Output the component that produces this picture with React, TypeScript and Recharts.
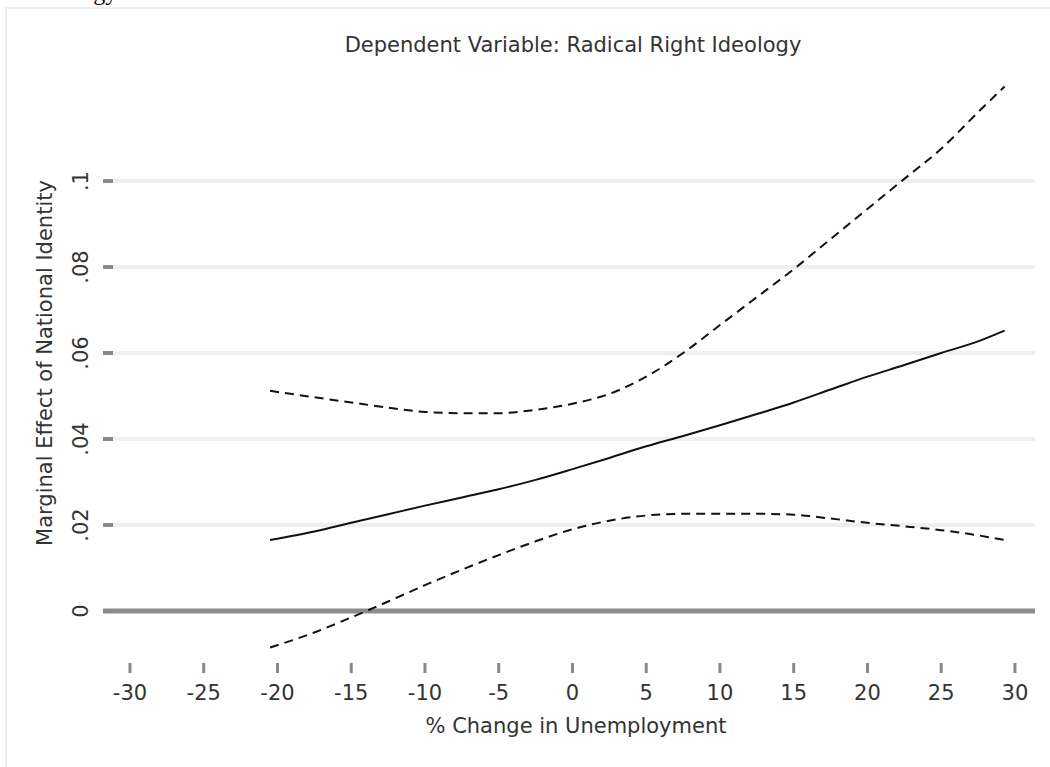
import React from 'react';
import { LineChart, Line, XAxis, YAxis, ReferenceLine } from 'recharts';

// % change in unemployment (x) and marginal effect estimates
const xValues = [-20.5, -17.5, -15, -12.5, -10, -7.5, -5, -2.5, 0, 2.5, 5, 7.5, 10, 12.5, 15, 17.5, 20, 22.5, 25, 27.5, 29.3];
const estimate = [0.0165, 0.0185, 0.0205, 0.0225, 0.0245, 0.0264, 0.0283, 0.0305, 0.033, 0.0356, 0.0383, 0.0407, 0.0432, 0.0458, 0.0485, 0.0515, 0.0545, 0.0572, 0.06, 0.0627, 0.0652];
const upperCI = [0.0512, 0.0497, 0.0485, 0.0473, 0.0463, 0.046, 0.046, 0.0468, 0.0482, 0.0505, 0.0545, 0.06, 0.0665, 0.073, 0.0795, 0.0865, 0.0935, 0.1005, 0.1075, 0.116, 0.122];
const lowerCI = [-0.0085, -0.005, -0.0015, 0.0022, 0.006, 0.0096, 0.013, 0.0162, 0.019, 0.021, 0.0222, 0.0226, 0.0226, 0.0226, 0.0224, 0.0215, 0.0205, 0.0197, 0.0188, 0.0176, 0.0165];

const xTicks = [-30, -25, -20, -15, -10, -5, 0, 5, 10, 15, 20, 25, 30];
const yTicks = [0, 0.02, 0.04, 0.06, 0.08, 0.1];
const yTickLabels = ['0', '.02', '.04', '.06', '.08', '.1'];

const data = xValues.map((x, i) => ({ x, est: estimate[i], upper: upperCI[i], lower: lowerCI[i] }));

const FONT = '"DejaVu Sans", sans-serif';
const TEXT = '#333';

const YTick = (props: any) => {
  const { x, y, index } = props;
  return (
    <g>
      <line x1={x} x2={x + 10} y1={y} y2={y} stroke="#8a8a8a" strokeWidth={4} />
      <text
        x={x - 15}
        y={y}
        transform={`rotate(-90, ${x - 15}, ${y})`}
        textAnchor="middle"
        fontFamily={FONT}
        fontSize={21}
        fill={TEXT}
      >
        {yTickLabels[index]}
      </text>
    </g>
  );
};

const XTick = (props: any) => {
  const { x, y, payload } = props;
  return (
    <g>
      <line x1={x} x2={x} y1={y + 3} y2={y + 13} stroke="#888" strokeWidth={3} />
      <text x={x} y={y + 40} textAnchor="middle" fontFamily={FONT} fontSize={21} fill={TEXT}>
        {payload.value}
      </text>
    </g>
  );
};

export default function App() {
  return (
    <div style={{ position: 'absolute', left: 0, top: 0, width: 1050, height: 767, overflow: 'hidden', background: '#fff' }}>
      {/* tail of the caption above the figure */}
      <div
        style={{
          position: 'absolute',
          left: 32,
          top: -20,
          fontFamily: '"Liberation Serif", serif',
          fontSize: 24,
          lineHeight: '24px',
          color: '#000',
        }}
      >
        Ideology
      </div>
      <div
        style={{
          position: 'absolute',
          left: 5,
          top: 7,
          width: 1045,
          height: 760,
          borderLeft: '2px solid #eeeeee',
          borderTop: '2px solid #eeeeee',
          boxSizing: 'border-box',
        }}
      />
      <div style={{ position: 'absolute', left: 0, top: 0 }}>
        <LineChart width={1050} height={767} data={data} margin={{ top: 80, right: 15, bottom: 7, left: 0 }}>
          {yTicks.slice(1).map((t) => (
            <ReferenceLine key={t} y={t} stroke="#efefef" strokeWidth={4} />
          ))}
          <XAxis
            type="number"
            dataKey="x"
            domain={[-31.83, 31.36]}
            ticks={xTicks}
            interval={0}
            allowDataOverflow
            axisLine={false}
            tickLine={false}
            tickSize={0}
            tickMargin={0}
            height={100}
            tick={<XTick />}
          />
          <YAxis
            type="number"
            domain={[-0.0114, 0.1235]}
            ticks={yTicks}
            interval={0}
            allowDataOverflow
            axisLine={false}
            tickLine={false}
            tickSize={0}
            tickMargin={0}
            width={103}
            tick={<YTick />}
          />
          <ReferenceLine y={0} stroke="#8c8c8c" strokeWidth={5} />
          <Line type="monotone" dataKey="upper" stroke="#111" strokeWidth={2} strokeDasharray="9 6" dot={false} isAnimationActive={false} />
          <Line type="monotone" dataKey="lower" stroke="#111" strokeWidth={2} strokeDasharray="9 6" dot={false} isAnimationActive={false} />
          <Line type="monotone" dataKey="est" stroke="#111" strokeWidth={2} dot={false} isAnimationActive={false} />
        </LineChart>
      </div>
      <svg width={1050} height={767} style={{ position: 'absolute', left: 0, top: 0, pointerEvents: 'none' }}>
        <text x={573} y={52} textAnchor="middle" fontFamily={FONT} fontSize={21} fill={TEXT}>
          Dependent Variable: Radical Right Ideology
        </text>
        <text x={576} y={733} textAnchor="middle" fontFamily={FONT} fontSize={21} fill={TEXT}>
          % Change in Unemployment
        </text>
        <text
          x={52}
          y={363}
          transform="rotate(-90, 52, 363)"
          textAnchor="middle"
          fontFamily={FONT}
          fontSize={21}
          fill={TEXT}
        >
          Marginal Effect of National Identity
        </text>
      </svg>
    </div>
  );
}
